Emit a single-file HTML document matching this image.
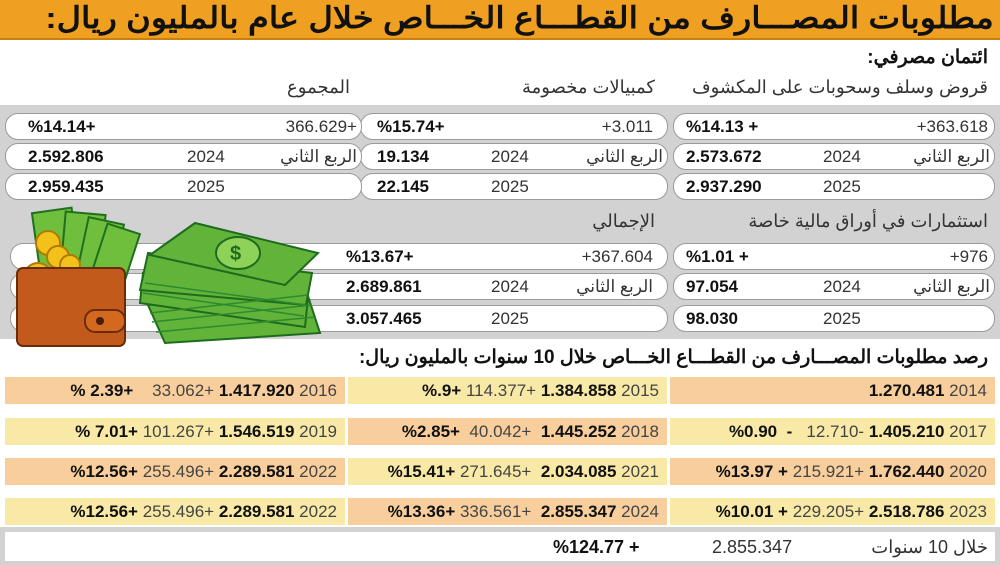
<!DOCTYPE html>
<html><head><meta charset="utf-8"><style>
*{margin:0;padding:0;box-sizing:border-box}
body{width:1000px;height:565px;overflow:hidden;background:#fff;position:relative;font-family:"Liberation Sans","Noto Sans CJK SC",sans-serif;color:#111}
.a{position:absolute;white-space:nowrap}
.box{position:absolute;background:#fff;border:1px solid #9a9a9a;border-radius:13px;height:27px}
.t{position:absolute;top:3px;font-size:17px;line-height:20px;white-space:nowrap;color:#333}
.b{font-weight:bold;color:#111}
.c{position:absolute;height:27px;font-size:17px;line-height:27px;text-align:right;padding-right:8px;white-space:nowrap;direction:ltr;color:#444}
.c b{color:#111}
.o{background:#f8cf9c}.y{background:#f9e9a6}
</style></head><body>
<div class="a" style="left:0;top:0;width:1000px;height:40px;background:#f0a020;border-bottom:2px solid #c88010"></div>
<div class="a" style="right:6px;top:1px;font-size:30px;font-weight:bold;direction:rtl;transform:scaleX(1.12);transform-origin:right center">مطلوبات المصـــارف من القطـــاع الخـــاص خلال عام بالمليون ريال:</div>
<div class="a" style="right:12px;top:46px;font-size:19px;font-weight:bold;direction:rtl">ائتمان مصرفي:</div>
<div class="a" style="right:12px;top:77px;font-size:18px;color:#333;direction:rtl">قروض وسلف وسحوبات على المكشوف</div>
<div class="a" style="right:345px;top:77px;font-size:18px;color:#333;direction:rtl">كمبيالات مخصومة</div>
<div class="a" style="right:650px;top:77px;font-size:18px;color:#333;direction:rtl">المجموع</div>
<div class="a" style="left:0;top:105px;width:1000px;height:234px;background:#d2d2d2"></div>

<div class="box" style="left:673px;top:113px;width:322px"><span class="t" style="right:6px">+363.618</span><span class="t b" style="left:12px">%14.13 +</span></div>
<div class="box" style="left:673px;top:143px;width:322px"><span class="t" style="right:4px;direction:rtl">الربع الثاني</span><span class="t" style="left:149px">2024</span><span class="t b" style="left:12px">2.573.672</span></div>
<div class="box" style="left:673px;top:173px;width:322px"><span class="t" style="left:149px">2025</span><span class="t b" style="left:12px">2.937.290</span></div>
<div class="box" style="left:360px;top:113px;width:308px"><span class="t" style="right:14px">+3.011</span><span class="t b" style="left:16px">%15.74+</span></div>
<div class="box" style="left:360px;top:143px;width:308px"><span class="t" style="right:4px;direction:rtl">الربع الثاني</span><span class="t" style="left:130px">2024</span><span class="t b" style="left:16px">19.134</span></div>
<div class="box" style="left:360px;top:173px;width:308px"><span class="t" style="left:130px">2025</span><span class="t b" style="left:16px">22.145</span></div>
<div class="box" style="left:5px;top:113px;width:357px"><span class="t" style="right:4px">366.629+</span><span class="t b" style="left:22px">%14.14+</span></div>
<div class="box" style="left:5px;top:143px;width:357px"><span class="t" style="right:4px;direction:rtl">الربع الثاني</span><span class="t" style="left:181px">2024</span><span class="t b" style="left:22px">2.592.806</span></div>
<div class="box" style="left:5px;top:173px;width:357px"><span class="t" style="left:181px">2025</span><span class="t b" style="left:22px">2.959.435</span></div>

<div class="a" style="right:12px;top:211px;font-size:18px;color:#333;direction:rtl">استثمارات في أوراق مالية خاصة</div>
<div class="a" style="right:345px;top:211px;font-size:18px;color:#333;direction:rtl">الإجمالي</div>
<div class="box" style="left:673px;top:243px;width:322px"><span class="t" style="right:6px">+976</span><span class="t b" style="left:12px">%1.01 +</span></div>
<div class="box" style="left:673px;top:273px;width:322px"><span class="t" style="right:4px;direction:rtl">الربع الثاني</span><span class="t" style="left:149px">2024</span><span class="t b" style="left:12px">97.054</span></div>
<div class="box" style="left:673px;top:305px;width:322px"><span class="t" style="left:149px">2025</span><span class="t b" style="left:12px">98.030</span></div>
<div class="box" style="left:10px;top:243px;width:658px"><span class="t" style="right:14px">+367.604</span><span class="t b" style="left:335px">%13.67+</span></div>
<div class="box" style="left:10px;top:273px;width:658px"><span class="t" style="right:14px;direction:rtl">الربع الثاني</span><span class="t" style="left:480px">2024</span><span class="t b" style="left:335px">2.689.861</span></div>
<div class="box" style="left:10px;top:305px;width:658px"><span class="t" style="left:480px">2025</span><span class="t b" style="left:335px">3.057.465</span></div>

<svg class="a" style="left:0;top:205px" width="330" height="145">
<g fill="#6fbf3c" stroke="#1f6f1f" stroke-width="2">
<rect x="38" y="5" width="40" height="85" transform="rotate(-8 58 50)"/>
<rect x="62" y="8" width="40" height="85" transform="rotate(5 80 50)"/>
<rect x="80" y="15" width="36" height="80" transform="rotate(12 98 55)"/>
<rect x="95" y="22" width="34" height="75" transform="rotate(18 112 60)"/>
</g>
<g fill="#f2c21a" stroke="#b07a05" stroke-width="2">
<circle cx="48" cy="38" r="12"/><circle cx="38" cy="72" r="14"/><circle cx="58" cy="52" r="11"/><circle cx="70" cy="60" r="10"/>
</g>
<rect x="17" y="63" width="108" height="78" rx="6" fill="#c25a1c" stroke="#6a2c08" stroke-width="2"/>
<rect x="85" y="105" width="40" height="22" rx="10" fill="#d2691e" stroke="#6a2c08" stroke-width="2"/>
<circle cx="100" cy="116" r="4" fill="#4a1e05"/>
<g fill="#62b33a" stroke="#1d6b1d" stroke-width="2">
<polygon points="148,100 305,82 320,128 165,138"/>
<polygon points="143,68 308,92 305,122 140,98"/>
<polygon points="148,48 312,68 306,100 140,85"/>
<polygon points="150,50 195,18 318,48 285,80"/>
</g>
<g fill="none" stroke="#2d8a2d" stroke-width="1.5">
<line x1="150" y1="108" x2="308" y2="90"/><line x1="152" y1="117" x2="312" y2="100"/><line x1="156" y1="127" x2="316" y2="112"/>
<line x1="145" y1="78" x2="306" y2="100"/><line x1="143" y1="88" x2="304" y2="111"/>
</g>
<ellipse cx="238" cy="48" rx="22" ry="16" fill="#8fd25a" stroke="#1d6b1d" stroke-width="2"/>
<text x="230" y="55" font-size="20" font-weight="bold" fill="#1d6b1d" font-family="Liberation Sans">$</text>
</svg>

<div class="a" style="right:12px;top:346px;font-size:19px;font-weight:bold;direction:rtl">رصد مطلوبات المصـــارف من القطـــاع الخـــاص خلال 10 سنوات بالمليون ريال:</div>

<div class="c o" style="left:5px;top:377px;width:340px"><b>% 2.39+</b>&nbsp;&nbsp;&nbsp; 33.062+ <b>1.417.920</b> 2016</div>
<div class="c y" style="left:348px;top:377px;width:319px"><b>%.9+</b> 114.377+ <b>1.384.858</b> 2015</div>
<div class="c o" style="left:670px;top:377px;width:325px"><b>1.270.481</b> 2014</div>

<div class="c y" style="left:5px;top:418px;width:340px"><b>% 7.01+</b> 101.267+ <b>1.546.519</b> 2019</div>
<div class="c o" style="left:348px;top:418px;width:319px"><b>%2.85+</b>&nbsp; 40.042+&nbsp; <b>1.445.252</b> 2018</div>
<div class="c y" style="left:670px;top:418px;width:325px"><b>%0.90&nbsp;&nbsp;-</b>&nbsp;&nbsp; 12.710- <b>1.405.210</b> 2017</div>

<div class="c o" style="left:5px;top:458px;width:340px"><b>%12.56+</b> 255.496+ <b>2.289.581</b> 2022</div>
<div class="c y" style="left:348px;top:458px;width:319px"><b>%15.41+</b> 271.645+&nbsp; <b>2.034.085</b> 2021</div>
<div class="c o" style="left:670px;top:458px;width:325px"><b>%13.97 +</b> 215.921+ <b>1.762.440</b> 2020</div>

<div class="c y" style="left:5px;top:498px;width:340px"><b>%12.56+</b> 255.496+ <b>2.289.581</b> 2022</div>
<div class="c o" style="left:348px;top:498px;width:319px"><b>%13.36+</b> 336.561+&nbsp; <b>2.855.347</b> 2024</div>
<div class="c y" style="left:670px;top:498px;width:325px"><b>%10.01 +</b> 229.205+ <b>2.518.786</b> 2023</div>

<div class="a" style="left:0;top:527px;width:1000px;height:38px;background:#d2d2d2"></div>
<div class="a" style="left:5px;top:532px;width:990px;height:29px;background:#fff"></div>
<div class="a" style="right:12px;top:537px;font-size:18px;color:#333;direction:rtl">خلال 10 سنوات</div>
<div class="a" style="left:712px;top:537px;font-size:18px;color:#333">2.855.347</div>
<div class="a" style="left:553px;top:537px;font-size:18px;font-weight:bold">%124.77 +</div>
</body></html>
